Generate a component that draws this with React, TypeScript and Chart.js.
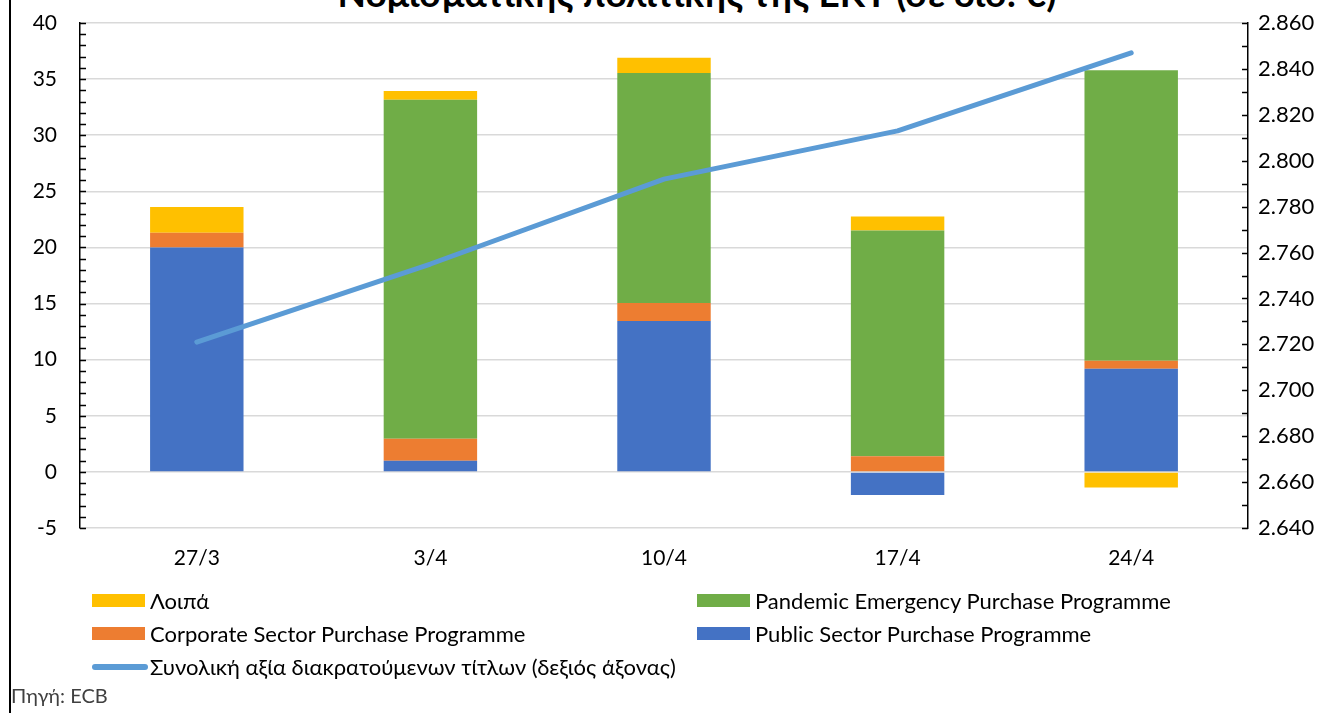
import React, { useEffect, useRef } from "react";
import { Chart, registerables } from "chart.js";

Chart.register(...registerables);

const categories = ["27/3", "3/4", "10/4", "17/4", "24/4"];
const publicSector = [20.0, 1.0, 13.45, -2.05, 9.2];
const corporateSector = [1.3, 1.95, 1.6, 1.4, 0.7];
const pandemic = [0, 30.2, 20.5, 20.1, 25.9];
const others = [2.3, 0.8, 1.35, 1.25, -1.4];
const totalHoldings = [2721, 2755, 2792, 2813, 2847];

const leftTicks = { min: -5, max: 40, step: 5 };
const rightTicks = { min: 2640, max: 2860, step: 20 };

const FONT = "Lato, 'Open Sans', sans-serif";

const fmtThousands = (v: number) => {
  const n = Math.round(v);
  const th = Math.floor(n / 1000);
  const rest = String(n % 1000).padStart(3, "0");
  return th > 0 ? `${th}.${rest}` : String(n);
};

const minorTicksPlugin = {
  id: "minorTicks",
  afterDraw(chart: any) {
    const ctx = chart.ctx;
    const y = chart.scales.y;
    const y2 = chart.scales.y2;
    ctx.save();
    ctx.strokeStyle = "#000";
    ctx.lineWidth = 1.5;
    ctx.beginPath();
    for (let v = leftTicks.min; v <= leftTicks.max; v += 1) {
      const p = Math.round(y.getPixelForValue(v)) + 0.5;
      ctx.moveTo(y.right, p);
      ctx.lineTo(y.right + 6, p);
    }
    for (let v = rightTicks.min; v <= rightTicks.max; v += rightTicks.step / 2) {
      const p = Math.round(y2.getPixelForValue(v)) + 0.5;
      ctx.moveTo(y2.left - 6, p);
      ctx.lineTo(y2.left, p);
    }
    ctx.stroke();
    ctx.restore();
  },
};

function LegendItem({ color, label, line }: { color: string; label: string; line?: boolean }) {
  return (
    <div style={{ display: "flex", alignItems: "center", height: 33 }}>
      {line ? (
        <div style={{ width: 56, height: 6, borderRadius: 3, background: color, marginRight: 2 }} />
      ) : (
        <div style={{ width: 53, height: 13, background: color, marginRight: 5 }} />
      )}
      <span style={{ fontFamily: FONT, fontSize: 22, color: "#000", whiteSpace: "nowrap" }}>{label}</span>
    </div>
  );
}

export default function App() {
  const ref = useRef<HTMLCanvasElement>(null);

  useEffect(() => {
    if (!ref.current) return;
    const chart = new Chart(ref.current, {
      type: "bar",
      data: {
        labels: categories,
        datasets: [
          {
            type: "line",
            label: "Συνολική αξία διακρατούμενων τίτλων (δεξιός άξονας)",
            data: totalHoldings,
            yAxisID: "y2",
            borderColor: "#5b9bd5",
            backgroundColor: "#5b9bd5",
            borderWidth: 5,
            borderCapStyle: "round",
            borderJoinStyle: "round",
            pointRadius: 0,
            tension: 0,
            order: 0,
          } as any,
          { label: "Public Sector Purchase Programme", data: publicSector, backgroundColor: "#4472c4", yAxisID: "y", order: 1 },
          { label: "Corporate Sector Purchase Programme", data: corporateSector, backgroundColor: "#ed7d31", yAxisID: "y", order: 1 },
          { label: "Pandemic Emergency Purchase Programme", data: pandemic, backgroundColor: "#70ad47", yAxisID: "y", order: 1 },
          { label: "Λοιπά", data: others, backgroundColor: "#ffc000", yAxisID: "y", order: 1 },
        ],
      },
      options: {
        animation: false,
        responsive: false,
        layout: { padding: { top: 23, left: 0, right: 0, bottom: 0 } },
        datasets: { bar: { barPercentage: 0.4, categoryPercentage: 1 } } as any,
        plugins: { legend: { display: false }, tooltip: { enabled: false } },
        scales: {
          x: {
            stacked: true,
            grid: { display: false, drawTicks: false },
            border: { display: false },
            ticks: { font: { family: FONT, size: 21 }, color: "#000", padding: 18 },
            afterFit(scale: any) {
              scale.height = 185;
            },
          },
          y: {
            stacked: true,
            position: "left",
            min: leftTicks.min,
            max: leftTicks.max,
            ticks: { stepSize: leftTicks.step, font: { family: FONT, size: 21 }, color: "#000", padding: 23 },
            grid: { color: "#d9d9d9", lineWidth: 1.5, drawTicks: false },
            border: { display: true, color: "#000", width: 1.5 },
            afterFit(scale: any) {
              scale.width = 80;
              scale.paddingTop = 0;
              scale.paddingBottom = 0;
            },
          },
          y2: {
            position: "right",
            min: rightTicks.min,
            max: rightTicks.max,
            ticks: {
              stepSize: rightTicks.step,
              font: { family: FONT, size: 22 },
              color: "#000",
              padding: 10,
              callback: (v: any) => fmtThousands(Number(v)),
            },
            grid: { display: false, drawTicks: false },
            border: { display: true, color: "#000", width: 1.5 },
            afterFit(scale: any) {
              scale.width = 84;
              scale.paddingTop = 0;
              scale.paddingBottom = 0;
            },
          },
        },
      },
      plugins: [minorTicksPlugin],
    });
    return () => chart.destroy();
  }, []);

  return (
    <div style={{ position: "absolute", left: 0, top: 0, width: 1332, height: 713, overflow: "hidden", background: "#fff" }}>
      <div style={{ position: "absolute", left: 9, top: 0, width: 2, height: 713, background: "#000" }} />
      <div
        style={{
          position: "absolute",
          left: 0,
          width: 1394,
          top: -26,
          textAlign: "center",
          fontFamily: FONT,
          fontWeight: "bold",
          fontSize: 37,
          lineHeight: "37px",
          color: "#000",
          whiteSpace: "nowrap",
        }}
      >
        Νομισματικής πολιτικής της ΕΚΤ (σε δισ. €)
      </div>
      <canvas ref={ref} width={1332} height={713} style={{ position: "absolute", left: 0, top: 0 }} />
      <div style={{ position: "absolute", left: 92, top: 584 }}>
        <LegendItem color="#ffc000" label="Λοιπά" />
        <LegendItem color="#ed7d31" label="Corporate Sector Purchase Programme" />
        <LegendItem color="#5b9bd5" label="Συνολική αξία διακρατούμενων τίτλων (δεξιός άξονας)" line />
      </div>
      <div style={{ position: "absolute", left: 697, top: 584 }}>
        <LegendItem color="#70ad47" label="Pandemic Emergency Purchase Programme" />
        <LegendItem color="#4472c4" label="Public Sector Purchase Programme" />
      </div>
      <div style={{ position: "absolute", left: 11, top: 683, fontFamily: FONT, fontSize: 20, color: "#404040" }}>
        Πηγή: ECB
      </div>
    </div>
  );
}
